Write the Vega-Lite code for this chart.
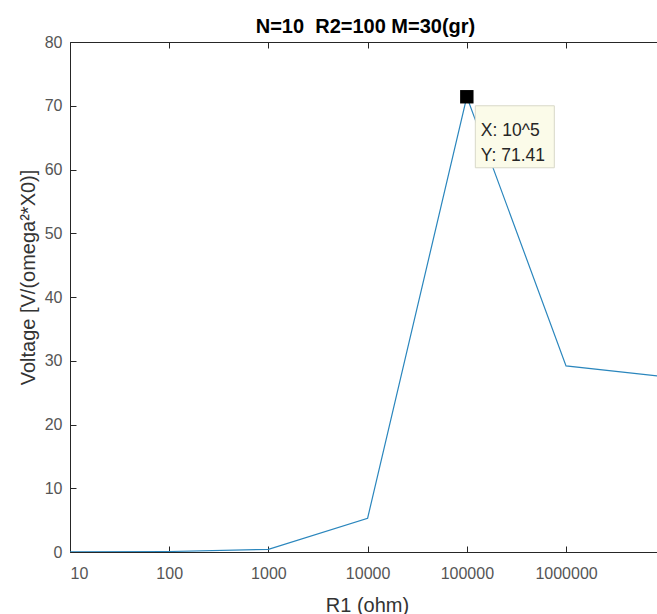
{
  "$schema": "https://vega.github.io/schema/vega-lite/v6.json",
  "autosize": "none",
  "width": 587,
  "height": 510,
  "padding": {"left": 70, "top": 42, "right": 0, "bottom": 62},
  "background": "white",
  "config": {
    "font": "Liberation Sans",
    "view": {"stroke": null},
    "axis": {
      "grid": false,
      "domainColor": "#262626",
      "domainWidth": 1,
      "ticks": true,
      "tickColor": "#262626",
      "tickWidth": 1,
      "tickSize": -6,
      "labelColor": "#555555",
      "labelFont": "Liberation Sans",
      "labelFontSize": 16,
      "titleFont": "Liberation Sans",
      "titleFontWeight": "normal",
      "titleFontSize": 20,
      "titleColor": "#333333"
    }
  },
  "title": {
    "text": "N=10\u00a0 R2=100 M=30(gr)",
    "font": "Liberation Sans",
    "fontSize": 20,
    "fontWeight": "bold",
    "color": "#000000",
    "baseline": "alphabetic",
    "frame": "group",
    "offset": 9,
    "dy": 28,
    "dx": 2
  },
  "datasets": {
    "curve": [
      {"R1": 10, "V": 0.04},
      {"R1": 100, "V": 0.08},
      {"R1": 1000, "V": 0.42},
      {"R1": 10000, "V": 5.3},
      {"R1": 100000, "V": 71.41},
      {"R1": 1000000, "V": 29.2},
      {"R1": 10000000, "V": 27.5}
    ],
    "tip": [
      {"R1": 100000, "V": 71.41, "label": "X: 10^5\nY: 71.41"}
    ]
  },
  "layer": [
    {
      "data": {"name": "curve"},
      "mark": {"type": "line", "color": "#2a86bd", "strokeWidth": 1.2, "clip": true},
      "encoding": {
        "x": {
          "field": "R1", "type": "quantitative",
          "scale": {"type": "log", "domain": [10, 8260000], "nice": false},
          "axis": {
            "values": [10, 100, 1000, 10000, 100000, 1000000],
            "format": "d",
            "ticks": true,
            "tickSize": -6,
            "labelBaseline": "alphabetic",
            "labelPadding": 32,
            "title": "R1 (ohm)",
            "titleBaseline": "alphabetic",
            "titleX": 297,
            "titleY": 59
          }
        },
        "y": {
          "field": "V", "type": "quantitative",
          "scale": {"domain": [0, 80], "nice": false, "zero": true},
          "axis": {
            "values": [0, 10, 20, 30, 40, 50, 60, 70, 80],
            "ticks": true,
            "tickSize": -6,
            "labelPadding": 14,
            "title": "Voltage [V/(omega²*X0)]",
            "titlePadding": 6,
            "titleY": 235
          }
        }
      }
    },
    {
      "data": {"name": "curve"},
      "mark": {"type": "point", "opacity": 0},
      "encoding": {
        "x": {
          "field": "R1", "type": "quantitative",
          "axis": {
            "orient": "top",
            "values": [10, 100, 1000, 10000, 100000, 1000000],
            "ticks": true,
            "tickSize": -6,
            "labels": false,
            "title": null
          }
        },
        "y": {"field": "V", "type": "quantitative"}
      }
    },
    {
      "data": {"name": "tip"},
      "mark": {"type": "rect", "width": 79, "height": 62, "xOffset": 48, "yOffset": 40, "fill": "#fbfbe9", "stroke": "#d8d8c8", "strokeWidth": 1},
      "encoding": {
        "x": {"field": "R1", "type": "quantitative", "axis": null},
        "y": {"field": "V", "type": "quantitative"}
      }
    },
    {
      "data": {"name": "tip"},
      "mark": {"type": "point", "shape": "square", "filled": true, "color": "#000000", "size": 180, "opacity": 1},
      "encoding": {
        "x": {"field": "R1", "type": "quantitative", "axis": null},
        "y": {"field": "V", "type": "quantitative"}
      }
    },
    {
      "data": {"name": "tip"},
      "mark": {"type": "text", "align": "left", "baseline": "alphabetic", "dx": 14, "dy": 39, "lineBreak": "\n", "lineHeight": 25, "fontSize": 17.5, "color": "#262626", "font": "Liberation Sans"},
      "encoding": {
        "x": {"field": "R1", "type": "quantitative", "axis": null},
        "y": {"field": "V", "type": "quantitative"},
        "text": {"field": "label"}
      }
    }
  ],
  "resolve": {"axis": {"x": "independent"}}
}
